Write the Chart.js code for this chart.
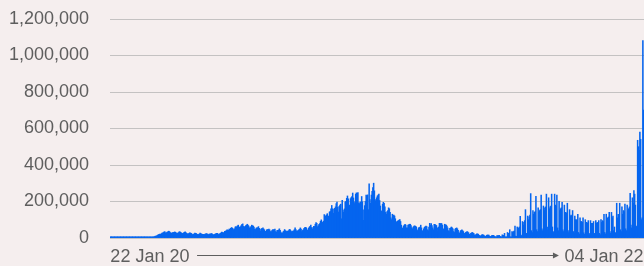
<!DOCTYPE html>
<html>
<head>
<meta charset="utf-8">
<script src="https://cdn.jsdelivr.net/npm/chart.js@4.4.1/dist/chart.umd.min.js"></script>
<style>
  html, body { margin: 0; padding: 0; background: #f5eeee; }
  #wrap { width: 644px; height: 266px; }
</style>
</head>
<body>
<div id="wrap"><canvas id="c" width="644" height="266"></canvas></div>
<script>
// Daily new confirmed cases (thousands), one value per day from 22 Jan 2020 to 04 Jan 2022
const startDate = '2020-01-22';
const dailyCasesK = [
  0.001,0,0,0.001,0.001,0,0.001,
  0,0.001,0.001,0.001,0,0,0,
  0.001,0,0,0,0,0,0,
  0,0,0,0,0,0,0,
  0,0,0,0,0,0,0.018,
  0.001,0.001,0.003,0.007,0.003,0.020,0.016,
  0.030,0.065,0.094,0.102,0.144,0.164,0.332,
  0.372,0.410,0.640,0.735,0.850,1.2,1.8,
  2.9,4.5,5.8,7.6,9.6,10.6,11.4,
  14,17.8,19,21,20,22,26,
  27,30,33,34,26,29,32,
  33,37,35,30,27,26,29,
  30,31,33,31,27,26,25,
  29,33,34,31,27,24,25,
  28,31,33,29,25,22,23,
  24,28,27,25,21,18,21,
  21,27,25,24,20,18,19,
  22,26,24,21,20,18,20,
  19,22,22,24,20,18,21,
  21,22,24,22,18,17,19,
  21,23,25,25,21,18,22,
  25,28,32,30,26,31,36,
  37,40,45,43,42,49,44,
  52,57,54,50,45,50,60,
  62,59,66,70,60,58,62,
  68,75,77,63,61,61,67,
  70,75,71,65,55,56,62,
  70,67,65,59,48,46,54,
  55,56,62,53,47,38,51,
  51,55,49,44,36,36,44,
  46,46,48,44,35,34,40,
  45,45,45,48,35,32,42,
  41,44,50,41,32,25,27,
  34,37,46,40,34,38,36,
  39,44,47,41,35,34,38,
  39,45,55,46,38,38,40,
  44,48,55,49,35,41,45,
  52,57,58,55,44,42,53,
  59,64,70,57,48,57,64,
  63,75,84,80,61,67,74,
  79,91,99,87,84,92,128,
  104,121,126,133,106,120,142,
  145,160,178,160,135,158,162,
  170,188,196,168,142,173,180,
  185,105,206,153,141,159,197,
  200,217,230,214,175,180,215,
  221,227,246,219,188,198,240,
  247,245,248,192,188,196,196,
  227,198,97,154,177,200,235,
  230,236,155,297,210,190,235,
  256,276,300,258,210,200,220,
  230,235,240,205,175,145,148,
  185,195,190,170,140,130,145,
  150,165,160,140,110,100,130,
  120,125,120,105,90,85,92,
  95,98,100,90,70,55,52,
  65,70,75,70,55,55,70,
  72,75,75,68,55,50,60,
  65,66,64,60,45,40,55,
  57,60,70,55,40,35,50,
  58,62,65,62,45,40,60,
  80,70,78,68,55,45,75,
  75,70,68,55,35,60,80,
  76,80,78,70,50,46,75,
  72,70,65,55,40,35,52,
  55,60,55,50,35,30,48,
  52,55,50,42,30,25,38,
  42,45,40,35,25,22,30,
  32,35,32,28,20,17,25,
  28,30,27,24,16,14,20,
  23,22,20,14,11,10,14,
  18,17,16,12,9,8,14,
  16,16,15,10,8,7,13,
  14,14,12,8,6,5,13,
  12,13,14,9,6,6,17,
  14,15,25,4,3,4,30,
  25,25,45,6,5,35,30,
  35,38,65,10,8,60,50,
  55,60,118,15,12,90,70,
  85,95,155,25,20,120,100,
  115,125,243,40,30,150,130,
  140,145,228,45,35,165,140,
  150,155,235,50,40,175,150,
  165,170,240,60,45,220,160,
  170,175,240,60,35,30,240,
  180,175,235,55,40,200,150,
  160,165,195,45,35,180,140,
  140,135,190,40,30,155,120,
  125,120,150,35,25,120,100,
  100,95,130,30,22,110,90,
  90,85,110,28,20,100,85,
  85,80,95,25,18,95,80,
  80,80,90,25,18,95,80,
  85,80,95,25,18,100,85,
  95,90,130,30,22,130,100,
  110,115,140,35,25,140,110,
  120,40,60,30,25,190,110,
  130,125,190,45,35,170,130,
  150,145,185,50,40,180,150,
  160,170,245,70,55,220,190,
  260,240,180,65,60,535,500,
  480,580,540,100,110,1082,700
];
const xTickLabels = ['22 Jan 20', '04 Jan 22'];
const yTickValues = [0, 200000, 400000, 600000, 800000, 1000000, 1200000];

// categories: one date per value
const dates = [];
{
  const d0 = new Date(startDate + 'T00:00:00Z');
  for (let i = 0; i < dailyCasesK.length; i++) {
    const d = new Date(d0.getTime() + i * 86400000);
    dates.push(d.toISOString().slice(0, 10));
  }
}
const cases = dailyCasesK.map(v => Math.round(v * 1000));

const BG = '#f5eeee';
const TEXT = '#5e5e5e';
const FONT = '"Liberation Sans", Arial, sans-serif';

const deco = {
  id: 'deco',
  beforeDraw(chart) {
    const { ctx, width, height } = chart;
    ctx.save();
    ctx.fillStyle = BG;
    ctx.fillRect(0, 0, width, height);
    ctx.restore();
  },
  afterDraw(chart) {
    const { ctx, chartArea } = chart;
    ctx.save();
    ctx.font = '18px ' + FONT;
    const w1 = ctx.measureText(xTickLabels[0]).width;
    const w2 = ctx.measureText(xTickLabels[1]).width;
    const y = Math.round(chartArea.bottom + 17) + 0.5;
    const x1 = chartArea.left + w1 + 8;
    const x2 = chartArea.right - w2 - 6;
    ctx.strokeStyle = TEXT;
    ctx.lineWidth = 1;
    ctx.beginPath();
    ctx.moveTo(x1, y);
    ctx.lineTo(x2 - 4, y);
    ctx.stroke();
    ctx.fillStyle = TEXT;
    ctx.beginPath();
    ctx.moveTo(x2, y);
    ctx.lineTo(x2 - 6, y - 3);
    ctx.lineTo(x2 - 6, y + 3);
    ctx.closePath();
    ctx.fill();
    ctx.restore();
  }
};

new Chart(document.getElementById('c'), {
  type: 'bar',
  data: {
    labels: dates,
    datasets: [{
      data: cases,
      backgroundColor: '#0565ef',
      borderWidth: 0,
      barPercentage: 1,
      categoryPercentage: 1,
      inflateAmount: 0.4,
      minBarLength: 1
    }]
  },
  options: {
    responsive: false,
    animation: false,
    events: [],
    layout: { padding: { top: 19, right: 0, bottom: 0, left: 0 } },
    plugins: { legend: { display: false }, tooltip: { enabled: false } },
    scales: {
      x: {
        grid: { display: false, drawTicks: false },
        border: { display: false },
        ticks: {
          autoSkip: false,
          maxRotation: 0,
          minRotation: 0,
          align: 'inner',
          padding: 8,
          color: TEXT,
          font: { family: FONT, size: 18 },
          callback: (v, i, t) => i === 0 ? xTickLabels[0] : (i === t.length - 1 ? xTickLabels[1] : '')
        },
        afterFit(s) { s.height = 28; s.paddingLeft = 0; s.paddingRight = 0; }
      },
      y: {
        min: 0,
        max: 1200000,
        grid: { color: '#c4c2c2', lineWidth: 1, drawTicks: false },
        border: { display: false },
        afterBuildTicks(s) { s.ticks = yTickValues.map(v => ({ value: v })); },
        ticks: {
          padding: 21,
          color: TEXT,
          font: { family: FONT, size: 18 },
          callback: v => Number(v).toLocaleString('en-US')
        },
        afterFit(s) { s.width = 110; s.paddingTop = 0; s.paddingBottom = 0; }
      }
    }
  },
  plugins: [deco]
});
</script>
</body>
</html>
